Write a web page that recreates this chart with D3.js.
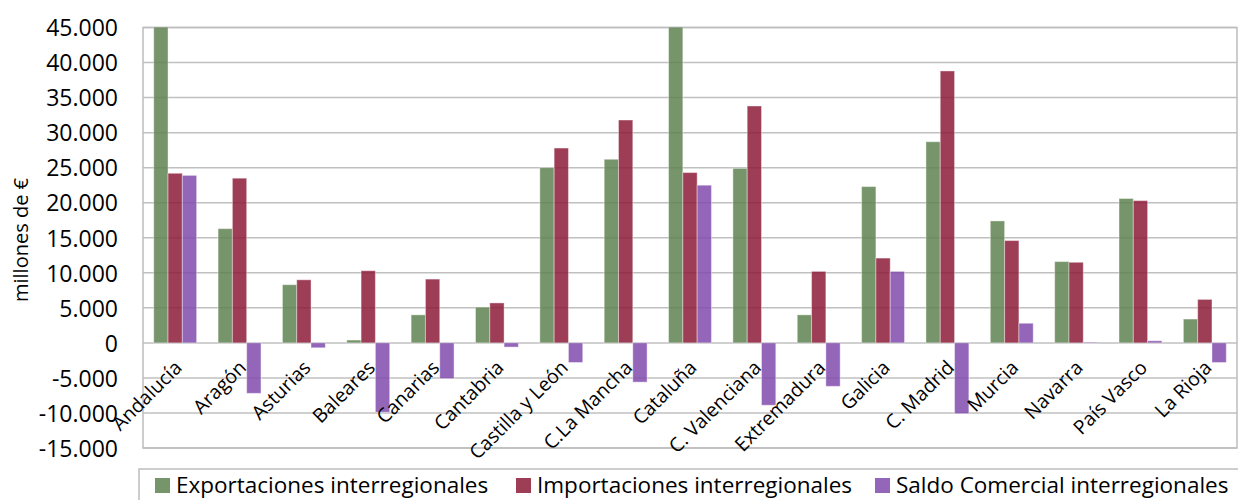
<!DOCTYPE html>
<html>
<head>
<meta charset="utf-8">
<script src="https://cdn.jsdelivr.net/npm/d3@7"></script>
<style>
  body { margin: 0; background: #fff; }
  svg { display: block; font-family: "Open Sans", sans-serif; }
</style>
</head>
<body>
<svg id="chart" width="1238" height="500"></svg>
<script>
const regions = ['Andalucía', 'Aragón', 'Asturias', 'Baleares', 'Canarias', 'Cantabria',
  'Castilla y León', 'C.La Mancha', 'Cataluña', 'C. Valenciana', 'Extremadura', 'Galicia',
  'C. Madrid', 'Murcia', 'Navarra', 'País Vasco', 'La Rioja'];
const seriesNames = ['Exportaciones interregionales', 'Importaciones interregionales',
  'Saldo Comercial interregionales'];
const exportaciones = [48100, 16300, 8300, 400, 4000, 5100, 25000, 26200, 46800, 24900,
  4000, 22300, 28700, 17400, 11600, 20600, 3400];
const importaciones = [24200, 23500, 9000, 10300, 9100, 5700, 27800, 31800, 24300, 33800,
  10200, 12100, 38800, 14600, 11500, 20300, 6200];
const saldo = [23900, -7200, -700, -9900, -5100, -600, -2800, -5600, 22500, -8900,
  -6200, 10200, -10100, 2800, 100, 300, -2800];
const yTicks = [-15000, -10000, -5000, 0, 5000, 10000, 15000, 20000, 25000, 30000, 35000, 40000, 45000];
const colors = ['#5f8350', '#8d1c38', '#814bad'];

function drawChart(svgElement) {
  const svg = d3.select(svgElement);
  const left = 143, right = 1237, top = 27.5, bottom = 448;
  const values = [exportaciones, importaciones, saldo];

  const x0 = d3.scaleBand().domain(regions).range([left, right]).padding(0);
  const x1 = d3.scaleBand().domain(d3.range(3)).range([0, x0.bandwidth()])
    .paddingInner(0).paddingOuter(0.75);
  const y = d3.scaleLinear().domain([-15000, 45000]).range([bottom, top]);
  const fmt = d => d3.format(',')(d).replace(/,/g, '.').replace('−', '-');

  svg.append('defs').append('clipPath').attr('id', 'plot')
    .append('rect').attr('x', left).attr('y', top).attr('width', right - left).attr('height', bottom - top);

  // grid
  svg.append('g')
    .selectAll('line')
    .data(yTicks)
    .enter()
    .append('line')
    .attr('x1', left).attr('x2', right)
    .attr('y1', d => y(d)).attr('y2', d => y(d))
    .attr('stroke', '#c0c0c0').attr('stroke-width', 1.5);

  svg.append('rect')
    .attr('x', left).attr('y', top).attr('width', right - left).attr('height', bottom - top)
    .attr('fill', 'none').attr('stroke', '#bdbdbd').attr('stroke-width', 1.5);

  // bars
  const groups = svg.append('g').attr('clip-path', 'url(#plot)')
    .selectAll('g')
    .data(regions)
    .enter()
    .append('g')
    .attr('transform', d => 'translate(' + x0(d) + ',0)');

  groups.selectAll('rect')
    .data((d, i) => values.map((s, k) => ({ k: k, v: s[i] })))
    .enter()
    .append('rect')
    .attr('x', d => x1(d.k))
    .attr('width', x1.bandwidth())
    .attr('y', d => y(Math.max(0, d.v)))
    .attr('height', d => Math.abs(y(d.v) - y(0)))
    .attr('fill', d => colors[d.k])
    .attr('fill-opacity', 0.85)
    .attr('stroke', '#fff')
    .attr('stroke-opacity', 0.4)
    .attr('stroke-width', 1);

  // y axis
  const yAxis = d3.axisLeft(y).tickValues(yTicks).tickFormat(fmt).tickSize(0).tickPadding(0);
  const ya = svg.append('g').attr('transform', 'translate(118,0)').call(yAxis);
  ya.select('.domain').remove();
  ya.selectAll('text')
    .attr('font-family', '"Open Sans", sans-serif')
    .attr('font-size', 23)
    .attr('fill', '#000')
    .attr('dy', '0.36em');

  svg.append('text')
    .attr('transform', 'translate(28,240) rotate(-90)')
    .attr('text-anchor', 'middle')
    .attr('font-size', 20)
    .text('millones de €');

  // category labels
  svg.append('g')
    .selectAll('text')
    .data(regions)
    .enter()
    .append('text')
    .attr('transform', d => 'translate(' + (x0(d) + x0.bandwidth() / 2 + 8) + ',' + (y(0) + 26) + ') rotate(-45)')
    .attr('text-anchor', 'end')
    .attr('font-size', 19.5)
    .text(d => d);

  // legend
  const legend = svg.append('g');
  legend.append('rect')
    .attr('x', 139).attr('y', 469).attr('width', 1120).attr('height', 40)
    .attr('fill', '#fff').attr('stroke', '#bdbdbd').attr('stroke-width', 1.5);
  const legendX = [155, 516, 875];
  const item = legend.selectAll('g.item')
    .data(seriesNames)
    .enter()
    .append('g')
    .attr('class', 'item')
    .attr('transform', (d, i) => 'translate(' + legendX[i] + ',478)');
  item.append('rect')
    .attr('width', 15).attr('height', 15)
    .attr('fill', (d, i) => colors[i]).attr('fill-opacity', 0.85);
  item.append('text')
    .attr('x', 21).attr('y', 15)
    .attr('font-size', 22.5)
    .text(d => d);
}

drawChart(document.querySelector('#chart'));
</script>
</body>
</html>
